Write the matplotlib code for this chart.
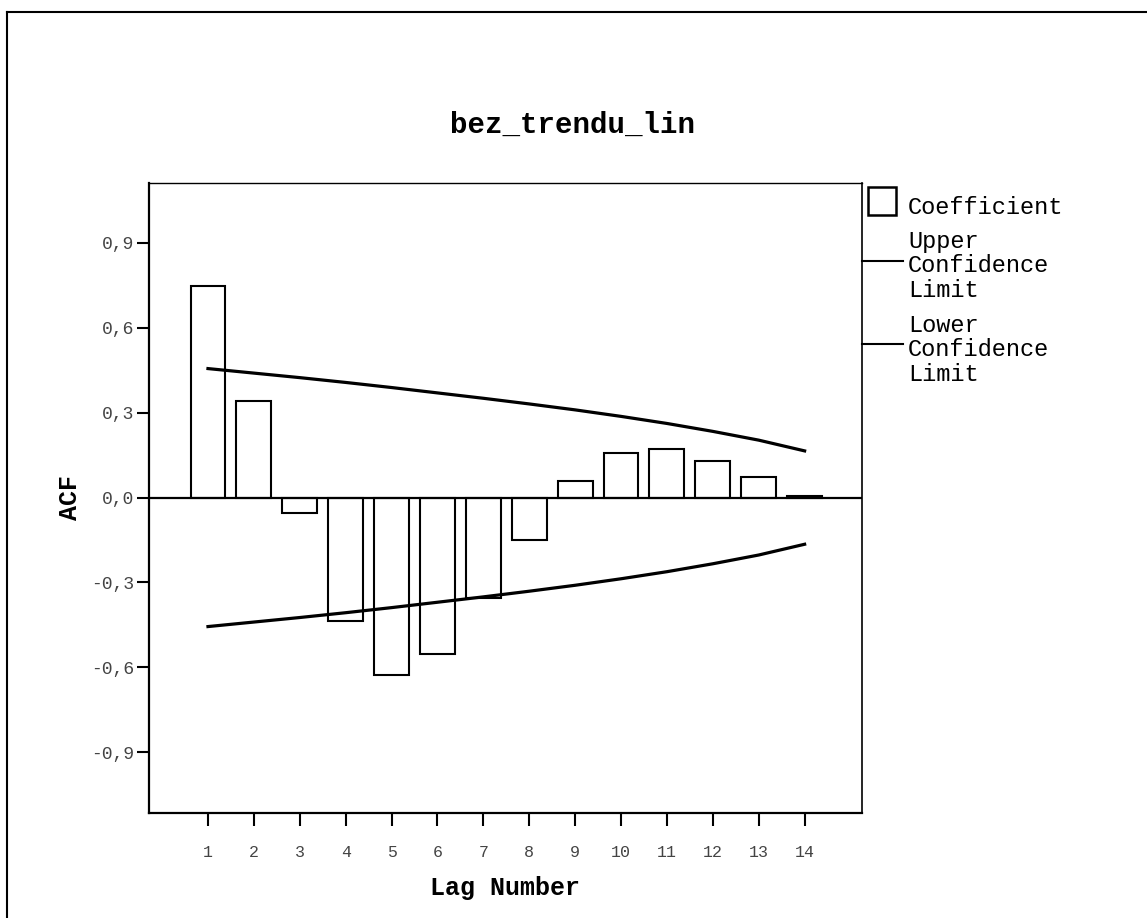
import matplotlib
matplotlib.use('Agg')
import matplotlib.pyplot as plt
from matplotlib.patches import Rectangle
from matplotlib.lines import Line2D

# ACF of the detrended series
lags = list(range(1, 15))
acf = [0.747, 0.343, -0.054, -0.437, -0.628, -0.554, -0.356,
       -0.150, 0.058, 0.157, 0.170, 0.130, 0.074, 0.005]
upper = [0.456, 0.440, 0.424, 0.407, 0.389, 0.370, 0.351,
         0.331, 0.310, 0.287, 0.262, 0.234, 0.203, 0.165]
lower = [-0.456, -0.440, -0.424, -0.407, -0.389, -0.370, -0.351,
         -0.331, -0.310, -0.287, -0.262, -0.234, -0.203, -0.165]
yticks = [-0.9, -0.6, -0.3, 0.0, 0.3, 0.6, 0.9]
ytick_labels = ['-0,9', '-0,6', '-0,3', '0,0', '0,3', '0,6', '0,9']

W, H = 1147, 918
mono = 'Liberation Mono'


def fx(x):
    return x / W


def fy(y):
    return 1 - y / H


fig = plt.figure(figsize=(W / 100, H / 100), dpi=100)
fig.patch.set_facecolor('white')

# page frame (left and top edges only are visible)
fig.add_artist(Line2D([fx(7), fx(7)], [fy(12), 0], color='black', lw=1.5,
                      transform=fig.transFigure))
fig.add_artist(Line2D([fx(7), 1], [fy(12), fy(12)], color='black', lw=1.5,
                      transform=fig.transFigure))

ax = fig.add_axes([fx(149), fy(813), fx(862 - 149), (813 - 183) / H])

ax.bar(lags, acf, width=0.76, color='white', edgecolor='black', linewidth=1.5, zorder=2)
ax.axhline(0, color='black', lw=1.6, zorder=3)
l_up, = ax.plot(lags, upper, color='black', lw=2.3, zorder=4)
l_lo, = ax.plot(lags, lower, color='black', lw=2.3, zorder=4)

ax.set_xlim(-0.285, 15.25)
ax.set_ylim(-1.115, 1.112)

ax.set_xticks(lags)
ax.set_xticklabels([str(l) for l in lags])
ax.set_yticks(yticks)
ax.set_yticklabels(ytick_labels)
ax.tick_params(direction='out', length=9, width=1.5, color='black',
               labelcolor='#444444')
ax.tick_params(axis='y', pad=2, labelsize=13)
ax.tick_params(axis='x', pad=14, labelsize=12)
for lab in ax.get_xticklabels() + ax.get_yticklabels():
    lab.set_family(mono)

ax.spines['left'].set_linewidth(1.6)
ax.spines['bottom'].set_linewidth(1.6)
ax.spines['top'].set_linewidth(1.0)
ax.spines['right'].set_linewidth(1.2)

fig.text(fx(573), fy(125), 'bez_trendu_lin', ha='center', va='center',
         fontsize=21, fontweight='bold', family=mono)
fig.text(fx(505), fy(888), 'Lag Number', ha='center', va='center',
         fontsize=18, fontweight='bold', family=mono)
fig.text(fx(70), fy(497), 'ACF', ha='center', va='center', rotation=90,
         fontsize=18, fontweight='bold', family=mono)

# legend
fig.add_artist(Rectangle((fx(868), fy(215)), fx(28), 28 / H, facecolor='white',
                         edgecolor='black', lw=1.8, transform=fig.transFigure))
fig.text(fx(908), fy(207), 'Coefficient', ha='left', va='center',
         fontsize=17, family=mono)
for yl, ytxt, name in [(261, 266, 'Upper'), (344, 350, 'Lower')]:
    fig.add_artist(Line2D([fx(862), fx(903)], [fy(yl), fy(yl)], color='black',
                          lw=1.5, transform=fig.transFigure))
    fig.text(fx(908), fy(ytxt), name + '\nConfidence\nLimit', ha='left',
             va='center', fontsize=17, family=mono, linespacing=1.1)

fig.savefig('out.png', dpi=100, facecolor='white')
